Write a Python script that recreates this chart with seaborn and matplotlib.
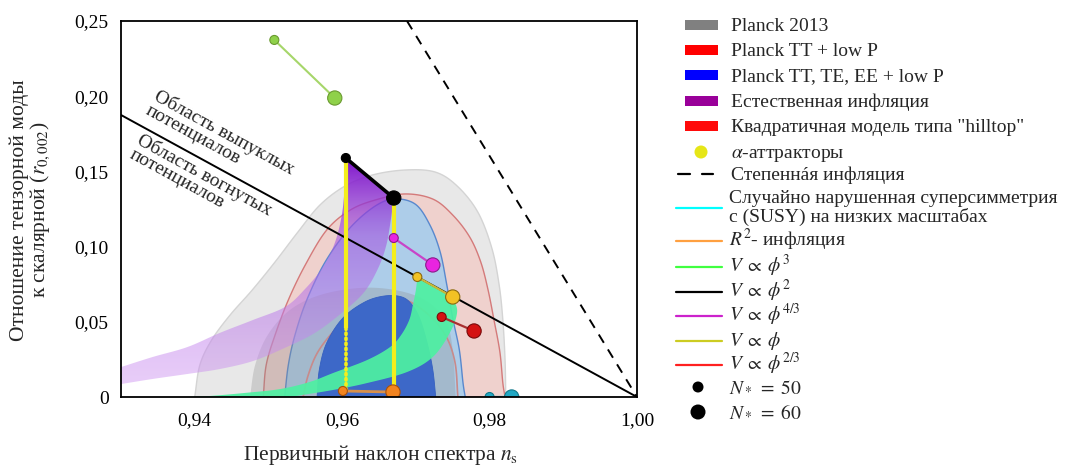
import numpy as np
import matplotlib
matplotlib.use("Agg")
import matplotlib.pyplot as plt
from matplotlib.patches import Polygon, Rectangle, Circle
import seaborn as sns
import pandas as pd

# ---------------------------------------------------------------- data
# Planck confidence regions, (n_s, r) vertices along each contour
p13_outer_ns = [0.9400, 0.9407, 0.9423, 0.9448, 0.9478, 0.9509, 0.9540, 0.9570, 0.9604, 0.9641,
                0.9685, 0.9726, 0.9756, 0.9784, 0.9803, 0.9813, 0.9818, 0.9821, 0.9822]
p13_outer_r = [0.0, 0.0213, 0.0379, 0.0545, 0.0711, 0.0898, 0.1097, 0.1277, 0.1403, 0.1476,
               0.1509, 0.1496, 0.1403, 0.1230, 0.0991, 0.0745, 0.0512, 0.0246, 0.0]
p13_inner_ns = [0.9475, 0.9482, 0.9499, 0.9529, 0.9570, 0.9624, 0.9672, 0.9712, 0.9740, 0.9750, 0.9754]
p13_inner_r = [0.0, 0.0213, 0.0412, 0.0578, 0.0678, 0.0725, 0.0711, 0.0645, 0.0512, 0.0313, 0.0]

tt_outer_ns = [0.9493, 0.9497, 0.9509, 0.9527, 0.9550, 0.9579, 0.9611, 0.9645, 0.9685, 0.9723,
               0.9750, 0.9773, 0.9788, 0.9798, 0.9806, 0.9814, 0.9818, 0.9821]
tt_outer_r = [0.0, 0.0213, 0.0412, 0.0645, 0.0878, 0.1110, 0.1243, 0.1310, 0.1350, 0.1316,
              0.1210, 0.1064, 0.0898, 0.0711, 0.0512, 0.0299, 0.0093, 0.0]
tt_inner_ns = [0.9547, 0.9554, 0.9567, 0.9590, 0.9617, 0.9651, 0.9685, 0.9716, 0.9740, 0.9753, 0.9757]
tt_inner_r = [0.0, 0.0146, 0.0299, 0.0445, 0.0565, 0.0632, 0.0645, 0.0552, 0.0412, 0.0233, 0.0]

all_outer_ns = [0.9522, 0.9527, 0.9536, 0.9552, 0.9577, 0.9608, 0.9641, 0.9669, 0.9699, 0.9719,
                0.9733, 0.9742, 0.9750, 0.9759, 0.9764, 0.9767]
all_outer_r = [0.0, 0.0213, 0.0412, 0.0645, 0.0898, 0.1110, 0.1257, 0.1316, 0.1283, 0.1144,
               0.0964, 0.0745, 0.0525, 0.0313, 0.0093, 0.0]
all_inner_ns = [0.9566, 0.9569, 0.9579, 0.9601, 0.9631, 0.9658, 0.9681, 0.9695, 0.9706, 0.9716, 0.9723, 0.9727]
all_inner_r = [0.0, 0.018, 0.0359, 0.0525, 0.0632, 0.0672, 0.0665, 0.0612, 0.0512, 0.0346, 0.018, 0.0]

# natural inflation band: N=50 edge and N=60 edge
nat_upper_ns = [0.9300, 0.9343, 0.9390, 0.9434, 0.9479, 0.9523, 0.9550, 0.9573, 0.9590, 0.9600, 0.9604, 0.9605]
nat_upper_r = [0.0199, 0.0266, 0.0332, 0.0426, 0.0512, 0.0600, 0.0720, 0.0858, 0.1024, 0.1223, 0.1443, 0.1589]
nat_lower_ns = [0.9670, 0.9666, 0.9660, 0.9649, 0.9630, 0.9601, 0.9563, 0.9522, 0.9479, 0.9434, 0.9390, 0.9343, 0.9300]
nat_lower_r = [0.1323, 0.1177, 0.1011, 0.0858, 0.0698, 0.0565, 0.0426, 0.0326, 0.0239, 0.0186, 0.0153, 0.0120, 0.0086]

# hilltop band
hill_inner_ns = [0.9702, 0.9700, 0.9696, 0.9691, 0.9680, 0.9665, 0.9634, 0.9588, 0.9556, 0.9516, 0.9468, 0.9421, 0.9387]
hill_inner_r = [0.0798, 0.0711, 0.0612, 0.0512, 0.0412, 0.0332, 0.0246, 0.0160, 0.0100, 0.0053, 0.0027, 0.0007, 0.0]
hill_outer_ns = [0.9529, 0.9588, 0.9634, 0.9688, 0.9723, 0.9746, 0.9756, 0.9750]
hill_outer_r = [0.0, 0.0047, 0.0093, 0.0166, 0.0266, 0.0426, 0.0565, 0.0665]

# model predictions, N* = 50 and N* = 60
pt_model = ["phi3", "phi3", "phi2", "phi2", "phi43", "phi43", "phi1", "phi1",
            "phi23", "phi23", "R2", "R2", "SUSY", "SUSY"]
pt_N = [50, 60] * 7
pt_ns = [0.9508, 0.9590, 0.9605, 0.9670, 0.9670, 0.9723, 0.9702, 0.9750,
         0.9735, 0.9779, 0.9601, 0.9669, 0.9800, 0.9830]
pt_r = [0.2374, 0.1988, 0.1589, 0.1323, 0.1057, 0.0878, 0.0798, 0.0665,
        0.0532, 0.0439, 0.0040, 0.0033, 0.0, 0.0]

# alpha-attractor tracks: solid above, dotted below this r on the N=50 track
alpha_dotted_below = 0.046

# boundary between convex and concave potentials, and power-law inflation
conv_ns = [0.93, 1.00]
conv_r = [0.1875, 0.0]
pl_ns = [0.9688, 1.00]
pl_r = [0.25, 0.0]

x_ticks = [0.94, 0.96, 0.98, 1.00]
x_ticklabels = ["0,94", "0,96", "0,98", "1,00"]
y_ticks = [0.0, 0.05, 0.10, 0.15, 0.20, 0.25]
y_ticklabels = ["0", "0,05", "0,10", "0,15", "0,20", "0,25"]

# ---------------------------------------------------------------- style
sns.set_theme(style="white")
plt.rcParams["font.family"] = ["Liberation Serif", "DejaVu Serif"]
plt.rcParams["mathtext.fontset"] = "stix"
FS = 14          # ticks and region captions
FS_LAB = 15.5    # axis titles
FS_LEG = 14      # legend entries

styles = {
    "phi3":  dict(line="#a6d66a", face="#8fd14a", edge="#6a9a30", lw=1.5),
    "phi2":  dict(line="#000000", face="#000000", edge="#000000", lw=2.6),
    "phi43": dict(line="#c844c8", face="#e824e0", edge="#8a1a8a", lw=1.6),
    "phi1":  dict(line="#c8b83a", face="#f2c224", edge="#8a6a10", lw=1.6),
    "phi23": dict(line="#a83030", face="#d41212", edge="#7a0a0a", lw=1.6),
    "R2":    dict(line="#d8904a", face="#f28420", edge="#a8500a", lw=2.0),
    "SUSY":  dict(line="#1ea8c0", face="#22a8c4", edge="#10788a", lw=1.6),
}


def smooth(xs, ys, n=14):
    """Catmull-Rom curve through the given vertices."""
    p = np.column_stack([xs, ys]).astype(float)
    p = np.vstack([2 * p[0] - p[1], p, 2 * p[-1] - p[-2]])
    t = np.linspace(0, 1, n, endpoint=False)[:, None]
    out = []
    for i in range(1, len(p) - 2):
        p0, p1, p2, p3 = p[i - 1], p[i], p[i + 1], p[i + 2]
        seg = 0.5 * (2 * p1 + (-p0 + p2) * t + (2 * p0 - 5 * p1 + 4 * p2 - p3) * t ** 2
                     + (-p0 + 3 * p1 - 3 * p2 + p3) * t ** 3)
        out.append(seg)
    out.append(p[-2][None])
    return np.vstack(out)


fig = plt.figure(figsize=(10.66, 4.66), dpi=100)
ax = fig.add_axes([121 / 1066, 69 / 466, 516 / 1066, 376 / 466])
ax.set_xlim(0.93, 1.00)
ax.set_ylim(0.0, 0.25)


def region(xs, ys, z, **kw):
    v = smooth(xs, ys)
    ax.add_patch(Polygon(v, closed=True, zorder=z, **kw))


# Planck contours
region(p13_outer_ns, p13_outer_r, 1, facecolor="#e8e8e8", edgecolor="#d4d4d4", lw=1.0)
region(tt_outer_ns, tt_outer_r, 2, facecolor="#f6bcb4", alpha=0.5, edgecolor="none")
region(tt_outer_ns, tt_outer_r, 2.1, facecolor="none", edgecolor="#d47a7a", lw=1.0)
region(all_outer_ns, all_outer_r, 3, facecolor="#a8cdec", alpha=0.92, edgecolor="#4f82cc", lw=1.0)
region(p13_inner_ns, p13_inner_r, 3.5, facecolor="#8c8c8c", alpha=0.3, edgecolor="none")
region(tt_inner_ns, tt_inner_r, 3.6, facecolor="none", edgecolor="#c88a8a", lw=1.2)
region(all_inner_ns, all_inner_r, 4, facecolor="#3d68c8", edgecolor="#3560c0", lw=0.6)

# natural inflation band with a violet gradient
band = np.vstack([smooth(nat_upper_ns, nat_upper_r), smooth(nat_lower_ns, nat_lower_r)])
clip = Polygon(band, closed=True, facecolor="none", edgecolor="none", zorder=5)
ax.add_patch(clip)
gx = np.linspace(0.93, 0.97, 200)
gy = np.linspace(0.0, 0.16, 200)
GX, GY = np.meshgrid(gx, gy)
t = np.clip(GY / 0.159, 0, 1) ** 1.3
c0 = np.array([0.82, 0.60, 0.95, 0.48])
c1 = np.array([0.64, 0.34, 0.88, 0.62])
c2 = np.array([0.47, 0.03, 0.78, 0.96])
rgba = np.where(t[..., None] < 0.6,
                c0 + (c1 - c0) * (t[..., None] / 0.6),
                c1 + (c2 - c1) * ((t[..., None] - 0.6) / 0.4))
img = ax.imshow(rgba, extent=[0.93, 0.97, 0.0, 0.16], origin="lower",
                aspect="auto", interpolation="bilinear", zorder=5)
img.set_clip_path(clip)

# hilltop band
hill = np.vstack([smooth(hill_inner_ns, hill_inner_r), smooth(hill_outer_ns, hill_outer_r)])
ax.add_patch(Polygon(hill, closed=True, facecolor="#4ef0a2", alpha=0.93, edgecolor="none", zorder=6))

ax.set_xlim(0.93, 1.00)
ax.set_ylim(0.0, 0.25)

# reference lines
sns.lineplot(x=conv_ns, y=conv_r, color="black", lw=1.4, ax=ax, zorder=7)
ax.plot(pl_ns, pl_r, color="black", lw=1.4, dashes=(5, 4), zorder=7)

df = pd.DataFrame({"model": pt_model, "N": pt_N, "ns": pt_ns, "r": pt_r})

# alpha attractors: from phi^2 points down to R^2 points
top = df[df.model == "phi2"].reset_index(drop=True)
bot = df[df.model == "R2"].reset_index(drop=True)
yel = "#f4ee1c"
ax.plot([top.ns[0], top.ns[0]], [top.r[0], alpha_dotted_below], color=yel, lw=3.0,
        solid_capstyle="butt", zorder=8)
ax.plot([top.ns[0], top.ns[0]], [alpha_dotted_below, bot.r[0]], color=yel, lw=2.6,
        dashes=(0.4, 1.0), dash_capstyle="round", zorder=8)
ax.plot([top.ns[1], top.ns[1]], [top.r[1], bot.r[1]], color=yel, lw=3.0,
        solid_capstyle="butt", zorder=8)

# model tracks and points
for m, st in styles.items():
    sub = df[df.model == m]
    sns.lineplot(data=sub, x="ns", y="r", color=st["line"], lw=st["lw"], sort=False,
                 estimator=None, ax=ax, zorder=9, legend=False)
    sns.scatterplot(data=sub, x="ns", y="r", size="N", sizes={50: 42, 60: 105},
                    color=st["face"], edgecolor=st["edge"], linewidth=0.8,
                    ax=ax, zorder=10, legend=False)

# annotations along the boundary line
p1 = ax.transData.transform((conv_ns[0], conv_r[0]))
p2 = ax.transData.transform((conv_ns[1], conv_r[1]))
ang = np.degrees(np.arctan2(p2[1] - p1[1], p2[0] - p1[0]))
ax.text(0.9352, 0.2062, "Область выпуклых\nпотенциалов", rotation=ang, rotation_mode="anchor",
        ha="left", va="top", ma="left", fontsize=FS, zorder=11, linespacing=0.95)
ax.text(0.9330, 0.1770, "Область вогнутых\nпотенциалов", rotation=ang, rotation_mode="anchor",
        ha="left", va="top", ma="left", fontsize=FS, zorder=11, linespacing=0.95)

# axes cosmetics
ax.set_xticks(x_ticks)
ax.set_xticklabels(x_ticklabels)
ax.set_yticks(y_ticks)
ax.set_yticklabels(y_ticklabels)
ax.tick_params(direction="in", length=7, width=1.1, labelsize=FS, top=False, right=False,
               colors="black")
ax.tick_params(axis="x", pad=11)
ax.tick_params(axis="y", pad=9)
for s in ax.spines.values():
    s.set_color("black")
    s.set_linewidth(1.3)
    s.set_zorder(12)
ax.set_xlabel("")
ax.set_ylabel("")
fig.text(380 / 1066, 1 - 455 / 466, "Первичный наклон спектра $n_\\mathrm{s}$",
         ha="center", va="center", fontsize=FS_LAB)
fig.text(31 / 1066, 1 - 210 / 466, "Отношение тензорной моды\nк скалярной ($r_{0,002}$)",
         ha="center", va="center", ma="center", rotation=90, fontsize=FS_LAB, linespacing=0.95)

# legend, laid out in figure pixels
lax = fig.add_axes([0, 0, 1, 1], zorder=20)
lax.set_xlim(0, 1066)
lax.set_ylim(466, 0)
lax.axis("off")

patch_rows = [
    (25, "#808080", "Planck 2013"),
    (50, "#ff0000", "Planck TT + low P"),
    (75, "#0000ff", "Planck TT, TE, EE + low P"),
    (101, "#990099", "Естественная инфляция"),
    (126, "#ff0a0a", "Квадратичная модель типа \"hilltop\""),
]
for y, c, label in patch_rows:
    lax.add_patch(Rectangle((685, y - 5), 33, 10, facecolor=c, edgecolor="none"))
    lax.text(731, y + 6, label, ha="left", va="baseline", fontsize=FS_LEG)

lax.add_patch(Circle((701, 152), 6.5, facecolor="#e6e617", edgecolor="none"))
lax.text(731, 158, "$\\alpha$-аттракторы", ha="left", va="baseline", fontsize=FS_LEG)

lax.plot([678, 690], [174, 174], color="black", lw=1.6)
lax.plot([702, 713], [174, 174], color="black", lw=1.6)
lax.text(731, 180, "Степенн\u00e1я инфляция", ha="left", va="baseline", fontsize=FS_LEG)

line_rows = [
    (208, "#00ffff", None),
    (241, "#ffa040", "$R^2$- инфляция"),
    (267, "#40ff40", "$V\\;\\propto\\;\\phi^3$"),
    (292, "#000000", "$V\\;\\propto\\;\\phi^2$"),
    (316, "#cc22cc", "$V\\;\\propto\\;\\phi^{4/3}$"),
    (341, "#cccc22", "$V\\;\\propto\\;\\phi$"),
    (365, "#ff2020", "$V\\;\\propto\\;\\phi^{2/3}$"),
]
for y, c, label in line_rows:
    lax.plot([676, 722], [y, y], color=c, lw=1.6)
    if label:
        lax.text(729, y + 5, label, ha="left", va="baseline", fontsize=FS_LEG)
lax.text(729, 203, "Случайно нарушенная суперсимметрия", ha="left", va="baseline", fontsize=FS_LEG)
lax.text(729, 222, "с (SUSY) на низких масштабах", ha="left", va="baseline", fontsize=FS_LEG)

lax.add_patch(Circle((698, 387), 5.5, facecolor="black", edgecolor="none"))
lax.text(729, 392, "$N_*\\;=\\;50$", ha="left", va="baseline", fontsize=FS_LEG)
lax.add_patch(Circle((698, 412), 7.5, facecolor="black", edgecolor="none"))
lax.text(729, 417, "$N_*\\;=\\;60$", ha="left", va="baseline", fontsize=FS_LEG)

fig.savefig("out.png", dpi=100)
